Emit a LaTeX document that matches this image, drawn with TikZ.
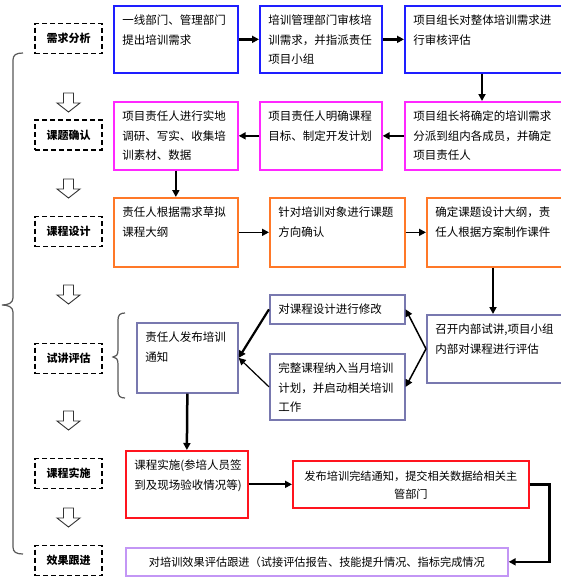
\documentclass[tikz,border=0pt]{standalone}
\usepackage{fontspec}
\setmainfont{Noto Sans CJK SC}
\usetikzlibrary{arrows.meta,calc}
\definecolor{cA}{RGB}{30,30,255}
\definecolor{cB}{RGB}{255,40,255}
\definecolor{cC}{RGB}{255,120,40}
\definecolor{cD}{RGB}{120,120,175}
\definecolor{cE}{RGB}{255,20,30}
\definecolor{cF}{RGB}{195,150,245}
\newcommand\tb[3]{\begin{minipage}[t][#2pt][t]{#1pt}\setlength{\parindent}{0pt}\setlength{\leftskip}{8.5pt}\fontsize{11.5}{19.5}\selectfont\rule{0pt}{19pt}#3\end{minipage}}
\newcommand\tcn[4]{\begin{minipage}[t][#2pt][t]{#1pt}\centering\fontsize{11.2}{18}\selectfont\rule{0pt}{#3pt}#4\end{minipage}}
\newcommand\harrow[1]{\draw[hollow] (63.5,#1) -- (73.5,#1) -- (73.5,{#1+10}) -- (80,{#1+10}) -- (68.5,{#1+19}) -- (57,{#1+10}) -- (63.5,{#1+10}) -- cycle;}
\begin{document}
\begin{tikzpicture}[x=1pt,y=-1pt,
  bx/.style={draw=#1, line width=1.7pt, inner sep=0pt, anchor=north west},
  lab/.style={draw=black, line width=1.8pt, dash pattern=on 5pt off 3pt, minimum width=67pt, minimum height=30pt, inner sep=0pt, font=\bfseries\fontsize{11}{13}\selectfont},
  arr/.style={-{Triangle[length=7pt,width=7pt]}, line width=2pt, black},
  hollow/.style={draw=black!80, line width=0.9pt, fill=white, line join=miter},
  brace/.style={draw=black!65, line width=1.2pt}]
\useasboundingbox (0,0) rectangle (560,581);
\fill[white] (0,0) rectangle (560,581);
% stage labels
\node[lab] (L1) at (68.5,38.5) {需求分析};
\node[lab] (L2) at (68.5,135) {课题确认};
\node[lab] (L3) at (68.5,231.5) {课程设计};
\node[lab] (L4) at (68.5,358.5) {试讲评估};
\node[lab] (L5) at (68.5,473.5) {课程实施};
\node[lab] (L6) at (68.5,560.5) {效果跟进};
\harrow{93}
\harrow{179}
\harrow{285}
\harrow{411}
\harrow{508}
% braces
\draw[brace] (23,53) .. controls (16,53) and (13,55) .. (13,60) -- (13,298) .. controls (13,303) and (8,305) .. (2,305) .. controls (8,305) and (13,307) .. (13,312) -- (13,547) .. controls (13,552) and (16,554) .. (23,554);
\draw[brace] (125,313) .. controls (120,313) and (118,315) .. (118,320) -- (118,350) .. controls (118,355) and (116,357) .. (113,357) .. controls (116,357) and (118,359) .. (118,364) -- (118,391) .. controls (118,396) and (120,398) .. (125,398);
% row A
\node[bx=cA] (A1) at (113,5) {\tb{124}{67}{一线部门、管理部门\\提出培训需求}};
\node[bx=cA] (A2) at (259,5) {\tb{122}{67}{培训管理部门审核培\\训需求，并指派责任\\项目小组}};
\node[bx=cA] (A3) at (404,5) {\tb{166}{67}{项目组长对整体培训需求进\\行审核评估}};
% row B
\node[bx=cB] (B1) at (113,101) {\tb{124}{68}{项目责任人进行实地\\调研、写实、收集培\\训素材、数据}};
\node[bx=cB] (B2) at (259,101) {\tb{122}{68}{项目责任人明确课程\\目标、制定开发计划}};
\node[bx=cB] (B3) at (404,101) {\tb{166}{68}{项目组长将确定的培训需求\\分派到组内各成员，并确定\\项目责任人}};
% row C
\node[bx=cC] (C1) at (113,197) {\tb{124}{69}{责任人根据需求草拟\\课程大纲}};
\node[bx=cC] (C2) at (269,197) {\tb{135}{69}{针对培训对象进行课题\\方向确认}};
\node[bx=cC] (C3) at (426,197) {\tb{144}{69}{确定课题设计大纲，责\\任人根据方案制作课件}};
% row D
\node[bx=cD] (D1) at (136,322) {\tb{101}{70}{责任人发布培训\\通知}};
\node[bx=cD] (D2) at (269,294) {\tb{135}{29}{对课程设计进行修改}};
\node[bx=cD] (D3) at (269,353) {\tb{135}{66}{完整课程纳入当月培训\\计划，并启动相关培训\\工作}};
\node[bx=cD] (D4) at (426,314) {\tb{144}{68}{召开内部试讲,项目小组\\内部对课程进行评估}};
% row E
\node[bx=cE] (E1) at (125,450) {\tb{122}{67}{课程实施(参培人员签\\到及现场验收情况等)}};
\node[bx=cE] (E2) at (292,460) {\tcn{236}{47}{19.5}{发布培训完结通知，提交相关数据给相关主\\管部门}};
% row F
\node[bx=cF] (F) at (125,547) {\tcn{382}{28}{18.5}{对培训效果评估跟进（试接评估报告、技能提升情况、指标完成情况}};
% connectors
\draw[arr, line width=2.4pt] (A1.east) -- (A2.west);
\draw[arr, line width=2.4pt] (A2.east) -- (A3.west);
\draw[arr] ($(A3.south west)+(78,0)$) -- ($(B3.north west)+(78,0)$);
\draw[arr] (B3.west) -- (B2.east);
\draw[arr] (B2.west) -- (B1.east);
\draw[arr] (B1.south) -- (C1.north);
\draw[arr, line width=1.6pt] (C1.east) -- (C2.west);
\draw[arr, line width=1.6pt] (C2.east) -- (C3.west);
\draw[arr] ($(C3.south west)+(67,0)$) -- ($(D4.north west)+(67,0)$);
\draw[arr, line width=1.5pt] (D4.west) -- (D2.east);
\draw[arr, line width=1.5pt] (D4.west) -- (D3.east);
\draw[arr, line width=2.2pt] (D2.west) -- (D1.east);
\draw[arr, line width=1.2pt] (D3.west) -- (D1.east);
\draw[arr, line width=2.5pt] (D1.south) -- (E1.north);
\draw[arr] (E1.east) -- (E2.west);
\draw[arr, line width=2.5pt] (E2.east) -- ++(20,0) |- (F.east);
\end{tikzpicture}
\end{document}
